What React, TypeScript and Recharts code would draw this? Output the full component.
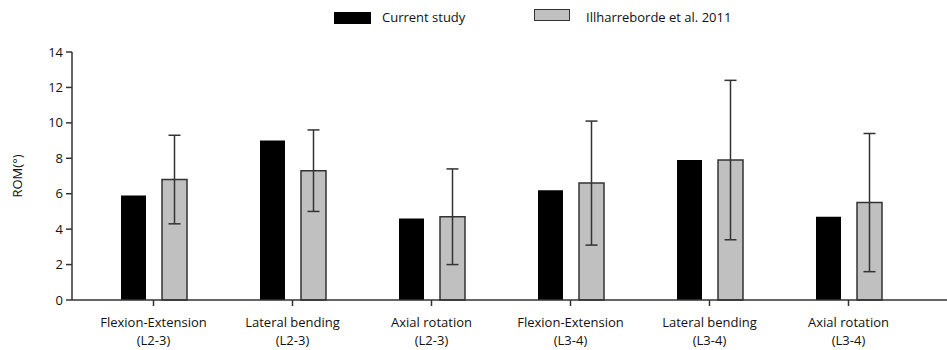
import { BarChart, Bar, XAxis, YAxis, Legend, ErrorBar } from "recharts";

const categories = [
  "Flexion-Extension|(L2-3)",
  "Lateral bending|(L2-3)",
  "Axial rotation|(L2-3)",
  "Flexion-Extension|(L3-4)",
  "Lateral bending|(L3-4)",
  "Axial rotation|(L3-4)",
];
const currentStudy = [5.9, 9.0, 4.6, 6.2, 7.9, 4.7];
const illharreborde = [6.8, 7.3, 4.7, 6.6, 7.9, 5.5];
const illharrebordeSd = [2.5, 2.3, 2.7, 3.5, 4.5, 3.9];
const yTicks = [0, 2, 4, 6, 8, 10, 12, 14];

const FONT = "'Open Sans', sans-serif";
const TEXT = "#111";

const data = categories.map((c, i) => ({
  name: c,
  current: currentStudy[i],
  ill: illharreborde[i],
  sd: illharrebordeSd[i],
}));

const CategoryTick = ({ x, y, payload }: any) => {
  const [a, b] = String(payload.value).split("|");
  return (
    <g transform={`translate(${x},${y})`}>
      <text textAnchor="middle" fontFamily={FONT} fontSize={13} fill={TEXT}>
        <tspan x={0} dy={19}>{a}</tspan>
        <tspan x={0} dy={18}>{b}</tspan>
      </text>
    </g>
  );
};

const LegendBox = () => (
  <div style={{ position: "relative", height: 28, width: 947, fontFamily: FONT, fontSize: 13, color: TEXT }}>
    <div style={{ position: "absolute", left: 334, top: 7, width: 37, height: 12, background: "#000" }} />
    <span style={{ position: "absolute", left: 382, top: 3 }}>Current study</span>
    <div style={{ position: "absolute", left: 534, top: 4, width: 34, height: 10, background: "#c0c0c0", border: "1px solid #333" }} />
    <span style={{ position: "absolute", left: 586, top: 3 }}>Illharreborde et al. 2011</span>
  </div>
);

export default function App() {
  return (
    <div style={{ position: "absolute", left: 0, top: 0, background: "#fff" }}>
      <BarChart
        width={947}
        height={350}
        data={data}
        margin={{ top: 24, right: 0, bottom: 0, left: 0 }}
        barSize={25}
        barGap={16}
      >
        <Legend verticalAlign="top" content={<LegendBox />} wrapperStyle={{ top: 5, left: 0, width: 947 }} />
        <XAxis
          dataKey="name"
          height={50}
          tick={<CategoryTick />}
          tickSize={6}
          interval={0}
          padding={{ left: 12, right: 29 }}
          axisLine={{ stroke: "#333", strokeWidth: 1.5 }}
          tickLine={{ stroke: "#333", strokeWidth: 1.5 }}
        />
        <YAxis
          width={72}
          domain={[0, 14]}
          ticks={yTicks}
          tickSize={6}
          tickMargin={3}
          tick={{ fontFamily: FONT, fontSize: 13, fill: TEXT }}
          axisLine={{ stroke: "#333", strokeWidth: 1.5 }}
          tickLine={{ stroke: "#333", strokeWidth: 1.5 }}
          label={{
            value: "ROM(°)",
            angle: -90,
            position: "insideLeft",
            offset: 17,
            style: { fontFamily: FONT, fontSize: 13, fill: TEXT, textAnchor: "middle" },
          }}
        />
        <Bar dataKey="current" fill="#000" isAnimationActive={false} />
        <Bar dataKey="ill" fill="#c0c0c0" stroke="#333" strokeWidth={1.5} isAnimationActive={false}>
          <ErrorBar dataKey="sd" width={6} stroke="#333" strokeWidth={1.5} direction="y" isAnimationActive={false} />
        </Bar>
      </BarChart>
    </div>
  );
}
